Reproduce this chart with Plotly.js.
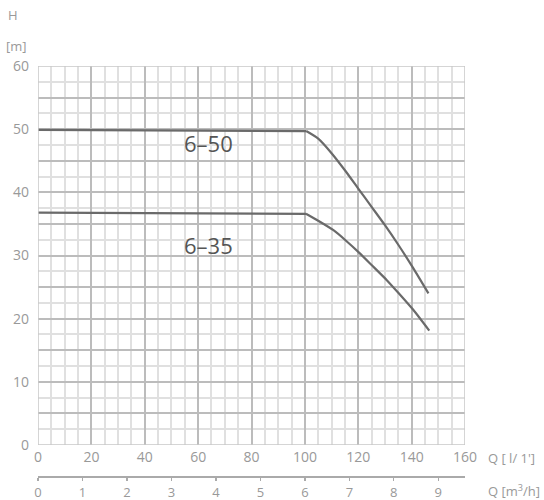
<!DOCTYPE html>
<html>
<head>
<meta charset="utf-8">
<script src="https://cdn.plot.ly/plotly-3.0.1.min.js"></script>
<style>html,body{margin:0;padding:0;background:#fff;}#chart{width:544px;height:500px;}</style>
</head>
<body>
<div id="chart"></div>
<script>
// Flow Q [l/min] and head H [m]
const q_6_50 = [0, 100.5, 105, 110, 115, 120, 125, 130, 135, 140.6, 146.3];
const h_6_50 = [49.9, 49.7, 48.5, 46.2, 43.5, 40.6, 37.7, 34.8, 31.7, 28.0, 24.0];
const q_6_35 = [0, 100.4, 105, 110.7, 115, 120.7, 125, 130.7, 135, 140.6, 146.6];
const h_6_35 = [36.8, 36.6, 35.5, 34.0, 32.5, 30.3, 28.5, 26.1, 24.1, 21.4, 18.1];
const curveNames = ["6–50", "6–35"];
const labelQ = [64, 64];
const labelH = [47.8, 31.7];
const xTickVals = [0,20,40,60,80,100,120,140,160];
const yTickVals = [0,5,10,15,20,25,30,35,40,45,50,55,60];
const yTickText = ["0","","10","","20","","30","","40","","50","","60"];
const m3hTicks = [0,1,2,3,4,5,6,7,8,9];

const gray = "#999";
const curveColor = "#6a6a6a";
const fontFam = "Open Sans, Noto Sans, sans-serif";

function curveTraces(q, h) {
  return [
    {x: q.slice(0, 2), y: h.slice(0, 2), mode: "lines", line: {color: curveColor, width: 2.2}, hoverinfo: "skip", showlegend: false},
    {x: q.slice(1), y: h.slice(1), mode: "lines", line: {color: curveColor, width: 2.2, shape: "spline", smoothing: 0.6}, hoverinfo: "skip", showlegend: false}
  ];
}

const traces = [
  ...curveTraces(q_6_50, h_6_50),
  ...curveTraces(q_6_35, h_6_35),
  {x: [0, 9.6], y: [null, null], xaxis: "x2", mode: "lines", showlegend: false, hoverinfo: "skip"}
];

const annotations = curveNames.map((n, i) => ({
  x: labelQ[i], y: labelH[i], xref: "x", yref: "y", text: n, showarrow: false,
  font: {family: fontFam, size: 22, color: "#555"}
}));
const L = 38, R = 465, T = 66, B = 476;
const pxAnn = [
  {x: 13, y: 15, text: "H", xanchor: "center"},
  {x: 16, y: 46, text: "[m]", xanchor: "center"},
  {x: 486, y: 458, text: "Q [ l/ 1']", xanchor: "left"},
  {x: 486, y: 490, text: "Q [m<sup>3</sup>/h]", xanchor: "left"}
];
pxAnn.forEach(a => annotations.push({
  x: (a.x - L) / (R - L), y: (B - a.y) / (B - T), xref: "paper", yref: "paper",
  text: a.text, xanchor: a.xanchor, yanchor: "middle", showarrow: false,
  font: {family: fontFam, size: 13, color: gray}
}));

const layout = {
  width: 544, height: 500,
  margin: {l: L, r: 544 - R, t: T, b: 500 - B},
  paper_bgcolor: "#fff", plot_bgcolor: "#fff",
  font: {family: fontFam, color: gray, size: 14},
  xaxis: {
    range: [0, 160], tickvals: xTickVals,
    showgrid: true, gridcolor: "#bcbcbc", gridwidth: 2,
    minor: {dtick: 5, tick0: 0, showgrid: true, gridcolor: "#e0e0e0", gridwidth: 2},
    zeroline: false, showline: false, ticks: "", ticklabelstandoff: 2,
    tickfont: {size: 14, color: gray}, anchor: "y", fixedrange: true
  },
  yaxis: {
    range: [0, 60], domain: [(B - 445) / (B - T), 1],
    tickvals: yTickVals, ticktext: yTickText,
    showgrid: true, gridcolor: "#bcbcbc", gridwidth: 2,
    minor: {dtick: 2.5, tick0: 0, showgrid: true, gridcolor: "#e0e0e0", gridwidth: 2},
    zeroline: false, showline: false, ticks: "", ticklabelstandoff: 8,
    tickfont: {size: 14, color: gray}, fixedrange: true
  },
  xaxis2: {
    overlaying: "x", anchor: "free", position: 0, side: "bottom",
    range: [0, 9.6], tickvals: m3hTicks, showgrid: false, zeroline: false,
    showline: true, linecolor: "#aaa", linewidth: 1.5,
    ticks: "outside", ticklen: 3, tickcolor: "#aaa", tickwidth: 1.3,
    ticklabelstandoff: 1,
    tickfont: {size: 13, color: gray}, fixedrange: true
  },
  shapes: [
    {type: "rect", xref: "x", yref: "y", x0: 0, x1: 160, y0: 0, y1: 60, line: {color: "#c8c8c8", width: 1.5}}
  ],
  annotations: annotations
};

Plotly.newPlot("chart", traces, layout, {displayModeBar: false, staticPlot: true});
</script>
</body>
</html>
